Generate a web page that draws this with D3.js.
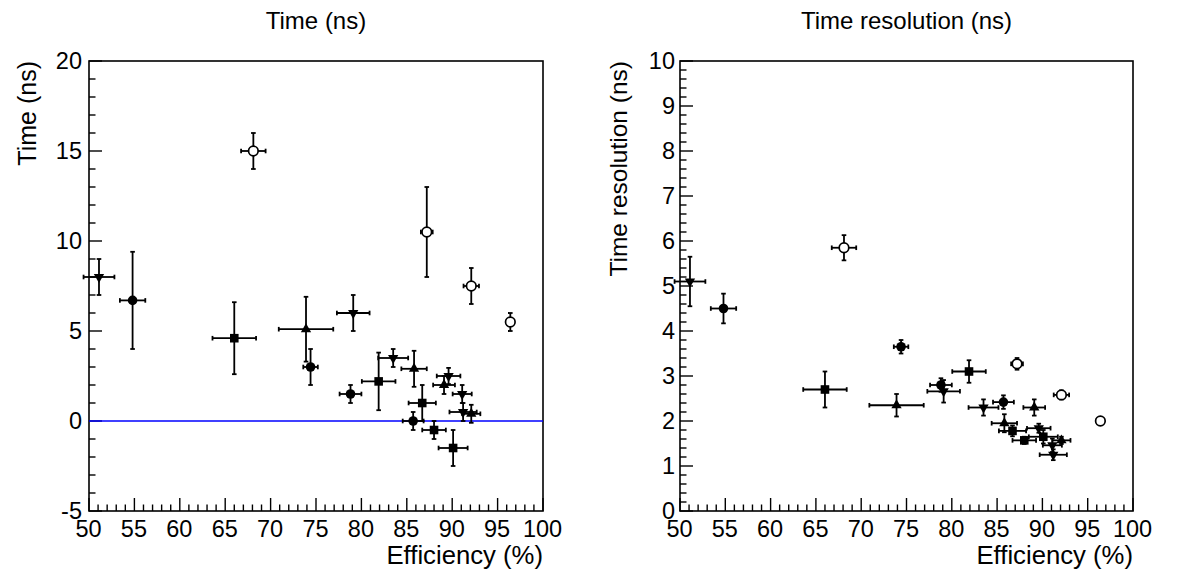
<!DOCTYPE html>
<html><head><meta charset="utf-8">
<script src="https://cdn.jsdelivr.net/npm/d3@7"></script>
<style>
html,body{margin:0;padding:0;background:#fff;}
svg{display:block;font-family:"Liberation Sans",Arial,Helvetica,sans-serif;}
</style></head>
<body>
<svg id="c" width="1182" height="575"></svg>
<script>
// ---------- data ----------
// Down triangles
const effDn = [51.1, 79.1, 83.5, 89.6, 91.1, 91.2];
const effErrDn = [1.7, 1.8, 1.65, 1.3, 1.05, 1.5];
const timeDn = [8.0, 6.0, 3.5, 2.5, 1.5, 0.5];
const timeErrDn = [1.0, 1.0, 0.5, 0.45, 0.5, 0.5];
const resDn = [5.1, 2.66, 2.3, 1.84, 1.46, 1.25];
const resErrDn = [0.55, 0.25, 0.18, 0.1, 0.15, 0.12];
// Up triangles
const effUp = [73.9, 85.8, 89.1, 92.1];
const effErrUp = [3.0, 1.4, 1.2, 1.0];
const timeUp = [5.1, 2.9, 2.0, 0.4];
const timeErrUp = [1.8, 1.0, 0.5, 0.5];
const resUp = [2.35, 1.95, 2.3, 1.57];
const resErrUp = [0.25, 0.2, 0.18, 0.08];
// Squares
const effSq = [66.0, 81.9, 86.7, 88.0, 90.1];
const effErrSq = [2.4, 1.85, 1.5, 1.3, 1.6];
const timeSq = [4.6, 2.2, 1.0, -0.5, -1.5];
const timeErrSq = [2.0, 1.6, 1.0, 0.5, 1.0];
const resSq = [2.7, 3.1, 1.78, 1.57, 1.65];
const resErrSq = [0.4, 0.25, 0.12, 0.08, 0.15];
// Filled circles
const effCi = [54.8, 74.4, 78.8, 85.7];
const effErrCi = [1.4, 0.8, 1.2, 1.15];
const timeCi = [6.7, 3.0, 1.5, 0.0];
const timeErrCi = [2.7, 1.0, 0.5, 0.5];
const resCi = [4.5, 3.65, 2.8, 2.42];
const resErrCi = [0.33, 0.15, 0.15, 0.15];
// Open circles
const effOc = [68.1, 87.2, 92.1, 96.4];
const effErrOc = [1.35, 0.65, 0.85, 0.4];
const timeOc = [15.0, 10.5, 7.5, 5.5];
const timeErrOc = [1.0, 2.5, 1.0, 0.5];
const resOc = [5.85, 3.27, 2.58, 2.0];
const resErrOc = [0.28, 0.13, 0.1, 0.06];

const xTicks = [50,55,60,65,70,75,80,85,90,95,100];
const yTicksTime = [-5,0,5,10,15,20];
const yTicksRes = [0,1,2,3,4,5,6,7,8,9,10];

const series = [
  {shape:"dn", eff:effDn, effErr:effErrDn, time:timeDn, timeErr:timeErrDn, res:resDn, resErr:resErrDn},
  {shape:"up", eff:effUp, effErr:effErrUp, time:timeUp, timeErr:timeErrUp, res:resUp, resErr:resErrUp},
  {shape:"sq", eff:effSq, effErr:effErrSq, time:timeSq, timeErr:timeErrSq, res:resSq, resErr:resErrSq},
  {shape:"ci", eff:effCi, effErr:effErrCi, time:timeCi, timeErr:timeErrCi, res:resCi, resErr:resErrCi},
  {shape:"oc", eff:effOc, effErr:effErrOc, time:timeOc, timeErr:timeErrOc, res:resOc, resErr:resErrOc}
];

// ---------- drawing ----------
const svg = d3.select("#c");
const TOP = 61, BOT = 511;
const FONT = "Liberation Sans, Arial, sans-serif";
const fmt = d => String(d);

function panel(opt){
  const g = svg.append("g");
  const x = d3.scaleLinear().domain([50,100]).range([opt.x0, opt.x1]);
  const y = d3.scaleLinear().domain(opt.ydom).range([BOT, TOP]);

  // frame
  g.append("rect").attr("x",opt.x0).attr("y",TOP).attr("width",opt.x1-opt.x0).attr("height",BOT-TOP)
    .attr("fill","none").attr("stroke","#000").attr("stroke-width",1.6);

  // x ticks (inside, upward)
  const xMinor = d3.range(50,100.001,1);
  g.append("g").selectAll("line").data(xMinor).join("line")
    .attr("x1",d=>x(d)).attr("x2",d=>x(d))
    .attr("y1",BOT).attr("y2",d=> d%5===0 ? BOT-13 : BOT-6.5)
    .attr("stroke","#000").attr("stroke-width",1.4);
  const xa = d3.axisBottom(x).tickValues(xTicks).tickSize(0).tickPadding(0).tickFormat(fmt);
  const xg = g.append("g").attr("transform",`translate(0,${BOT})`).call(xa);
  xg.select(".domain").remove();
  xg.selectAll("text").attr("font-size",23.5).attr("fill","#000").attr("dy",null).attr("y",26).attr("x",-1)
    .attr("font-family",FONT);

  // y ticks
  const yMinor = d3.range(opt.ydom[0], opt.ydom[1]+1e-6, opt.yminor);
  g.append("g").selectAll("line").data(yMinor).join("line")
    .attr("x1",opt.x0).attr("x2",d=> Math.abs(Math.round(d/opt.ymajor)*opt.ymajor - d) < 1e-6 ? opt.x0+13 : opt.x0+6.5)
    .attr("y1",d=>y(d)).attr("y2",d=>y(d))
    .attr("stroke","#000").attr("stroke-width",1.4);
  const ya = d3.axisLeft(y).tickValues(opt.yticks).tickSize(0).tickPadding(opt.ypad).tickFormat(fmt);
  const yg = g.append("g").attr("transform",`translate(${opt.x0},0)`).call(ya);
  yg.select(".domain").remove();
  yg.selectAll("text").attr("font-size",23.5).attr("fill","#000")
    .attr("font-family",FONT);

  // titles
  svg.append("text").attr("x",(opt.x0+opt.x1)/2+(opt.titleDx||0)).attr("y",29).attr("text-anchor","middle")
    .attr("font-size",24).text(opt.title);
  svg.append("text").attr("x",opt.x1).attr("y",564).attr("text-anchor","end")
    .attr("font-size",25.7).text("Efficiency (%)");
  svg.append("text").attr("transform",`translate(${opt.ytx},${TOP}) rotate(-90)`).attr("text-anchor","end")
    .attr("font-size",opt.ytfs).text(opt.ytitle);

  // zero line
  if(opt.zeroLine){
    g.append("line").attr("x1",opt.x0).attr("x2",opt.x1).attr("y1",y(0)).attr("y2",y(0))
      .attr("stroke","#0000ff").attr("stroke-width",1.6);
  }

  // points
  const cap = 2.3;
  const pts = g.append("g");
  series.forEach(s=>{
    s.eff.forEach((e,i)=>{
      const v = s[opt.key][i], ve = s[opt.key+"Err"][i], ee = s.effErr[i];
      const px = x(e), py = y(v);
      const xl = x(e-ee), xr = x(e+ee), yt = y(v+ve), yb = y(v-ve);
      const eg = pts.append("g").attr("stroke","#000").attr("stroke-width",1.8);
      eg.append("line").attr("x1",xl).attr("x2",xr).attr("y1",py).attr("y2",py);
      eg.append("line").attr("x1",px).attr("x2",px).attr("y1",yt).attr("y2",yb);
      eg.append("line").attr("x1",xl).attr("x2",xl).attr("y1",py-cap).attr("y2",py+cap);
      eg.append("line").attr("x1",xr).attr("x2",xr).attr("y1",py-cap).attr("y2",py+cap);
      eg.append("line").attr("x1",px-cap).attr("x2",px+cap).attr("y1",yt).attr("y2",yt);
      eg.append("line").attr("x1",px-cap).attr("x2",px+cap).attr("y1",yb).attr("y2",yb);
    });
  });
  series.forEach(s=>{
    s.eff.forEach((e,i)=>{
      const v = s[opt.key][i];
      const px = x(e), py = y(v);
      let sym, rot = 0, fill = "#000", stroke = "none", size = 64;
      if(s.shape==="dn"){ sym = d3.symbolTriangle; rot = 180; size = 46; }
      else if(s.shape==="up"){ sym = d3.symbolTriangle; size = 46; }
      else if(s.shape==="sq"){ sym = d3.symbolSquare; size = 74; }
      else if(s.shape==="ci"){ sym = d3.symbolCircle; size = 72; }
      else { sym = d3.symbolCircle; size = 72; fill = "#fff"; stroke = "#000"; }
      pts.append("path").attr("d", d3.symbol().type(sym).size(size)())
        .attr("transform",`translate(${px},${py}) rotate(${rot})`)
        .attr("fill",fill).attr("stroke",stroke).attr("stroke-width",1.7);
    });
  });
}

panel({x0:89, x1:543, ydom:[-5,20], yticks:yTicksTime, ymajor:5, yminor:1, ypad:7,
  key:"time", title:"Time (ns)", ytitle:"Time (ns)", ytx:36, ytfs:25, zeroLine:true});
panel({x0:680, x1:1133, ydom:[0,10], yticks:yTicksRes, ymajor:1, yminor:0.2, ypad:5,
  key:"res", title:"Time resolution (ns)", ytitle:"Time resolution (ns)", ytx:627, ytfs:24.5, zeroLine:false});
</script>
</body></html>
